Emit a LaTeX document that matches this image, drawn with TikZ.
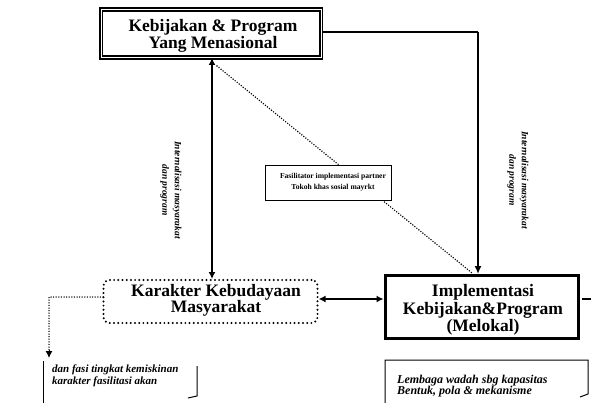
\documentclass[tikz,border=0pt]{standalone}
\usepackage{fontspec}
\setmainfont{Liberation Serif}
\usetikzlibrary{arrows.meta}
\begin{document}
\begin{tikzpicture}[x=1pt,y=-1pt,
  title/.style={font=\fontsize{17.5}{17.5}\selectfont\bfseries, align=center, inner sep=0pt},
  smalltxt/.style={font=\fontsize{7.6}{11}\selectfont\bfseries, align=center, inner sep=0pt},
  sidetxt/.style={font=\fontsize{9.5}{12.5}\selectfont\bfseries\itshape, align=center, inner sep=0pt, rotate=-90},
  notetxt/.style={font=\fontsize{11}{11.5}\selectfont\bfseries\itshape, align=left, inner sep=0pt},
  thickarrow/.style={line width=2.4pt, -{Latex[length=8pt,width=7pt]}},
  dblarrow/.style={line width=2.4pt, {Latex[length=7pt,width=7pt]}-{Latex[length=7pt,width=7pt]}},
  dots/.style={line width=1.4pt, dash pattern=on 0pt off 2.6pt, line cap=round},
  bigdots/.style={line width=2.2pt, dash pattern=on 0pt off 4.2pt, line cap=round}
]
\useasboundingbox (0,0) rectangle (591,403);
% connectors behind boxes
\coordinate (diagA) at (217,66);
\coordinate (diagB) at (472,273);
\draw[dots, line width=1.6pt] (diagA) -- (diagB);
% top box
\node[draw, fill=white, line width=1.6pt, double=white, double distance=0.9pt, minimum width=220pt, minimum height=48pt, inner sep=0pt] (top) at (211,33.5) {};
\node[title] (toptxt) at (213,36) {Kebijakan \& Program\\Yang Menasional};
% implementation box
\node[draw, line width=3pt, minimum width=193pt, minimum height=63pt, inner sep=0pt] (impl) at (481.5,306.5) {};
\node[title] (impltxt) at (483,310) {Implementasi\\Kebijakan\&Program\\(Melokal)};
% karakter box
\node[draw, bigdots, rounded corners=6pt, minimum width=214pt, minimum height=43pt, inner sep=0pt] (kar) at (210.5,301.5) {};
\node[title, font=\fontsize{17.5}{16}\selectfont\bfseries] (kartxt) at (216,300) {Karakter Kebudayaan\\Masyarakat};
% middle label
\node[draw, fill=white, line width=0.6pt, minimum width=126pt, minimum height=35pt, inner sep=0pt] (mid) at (328.5,182.5) {};
\node[smalltxt] (midtxt) at (333,182) {Fasilitator implementasi partner\\Tokoh khas sosial mayrkt};
% side labels
\node[sidetxt] (lefttxt) at (171,190) {Internalisasi masyarakat\\dan program};
\node[sidetxt] (righttxt) at (518,180) {Internalisasi masyarakat\\dan program};
% coordinates
\coordinate (topR) at (top.east |- 0,32);
\coordinate (corner) at (478,32);
\coordinate (implT) at (478,274);
\coordinate (topB) at (212,58);
\coordinate (karT) at (212,279);
\coordinate (karL) at (103,297);
\coordinate (dcorner) at (49,297);
\coordinate (dend) at (49,350);
\coordinate (dtip) at (49,358);
\coordinate (implR) at (582,299);
\coordinate (edge) at (591,299);
% connectors
\draw[line width=2.4pt] (topR) -- (corner);
\draw[thickarrow] (corner) -- (implT);
\draw[dblarrow] (topB) -- (karT);
\draw[dblarrow] (kar.east |- 0,299) -- (impl.west |- 0,299);
\draw[line width=2pt] (implR) -- (edge);
\draw[dots, line width=1.5pt] (karL) -- (dcorner) -- (dend);
\draw[-{Latex[length=7pt,width=7pt]}, line width=1pt] (dend) -- (dtip);
% bottom left note
\node[notetxt] (blnote) at (52,376) [anchor=west] {dan fasi tingkat kemiskinan\\karakter fasilitasi akan};
\draw[line width=1pt] (43,361) -- (43,403);
\draw[line width=1pt] (197,366) -- (197,396) -- (188,398);
% bottom right note
\node[notetxt, font=\fontsize{12}{11.5}\selectfont\bfseries\itshape] (brnote) at (397,386) [anchor=west] {Lembaga wadah sbg kapasitas\\Bentuk, pola \& mekanisme};
\draw[line width=1pt] (385,403) -- (385,360) -- (588,360) -- (588,394) -- (580,397);
\end{tikzpicture}
\end{document}
